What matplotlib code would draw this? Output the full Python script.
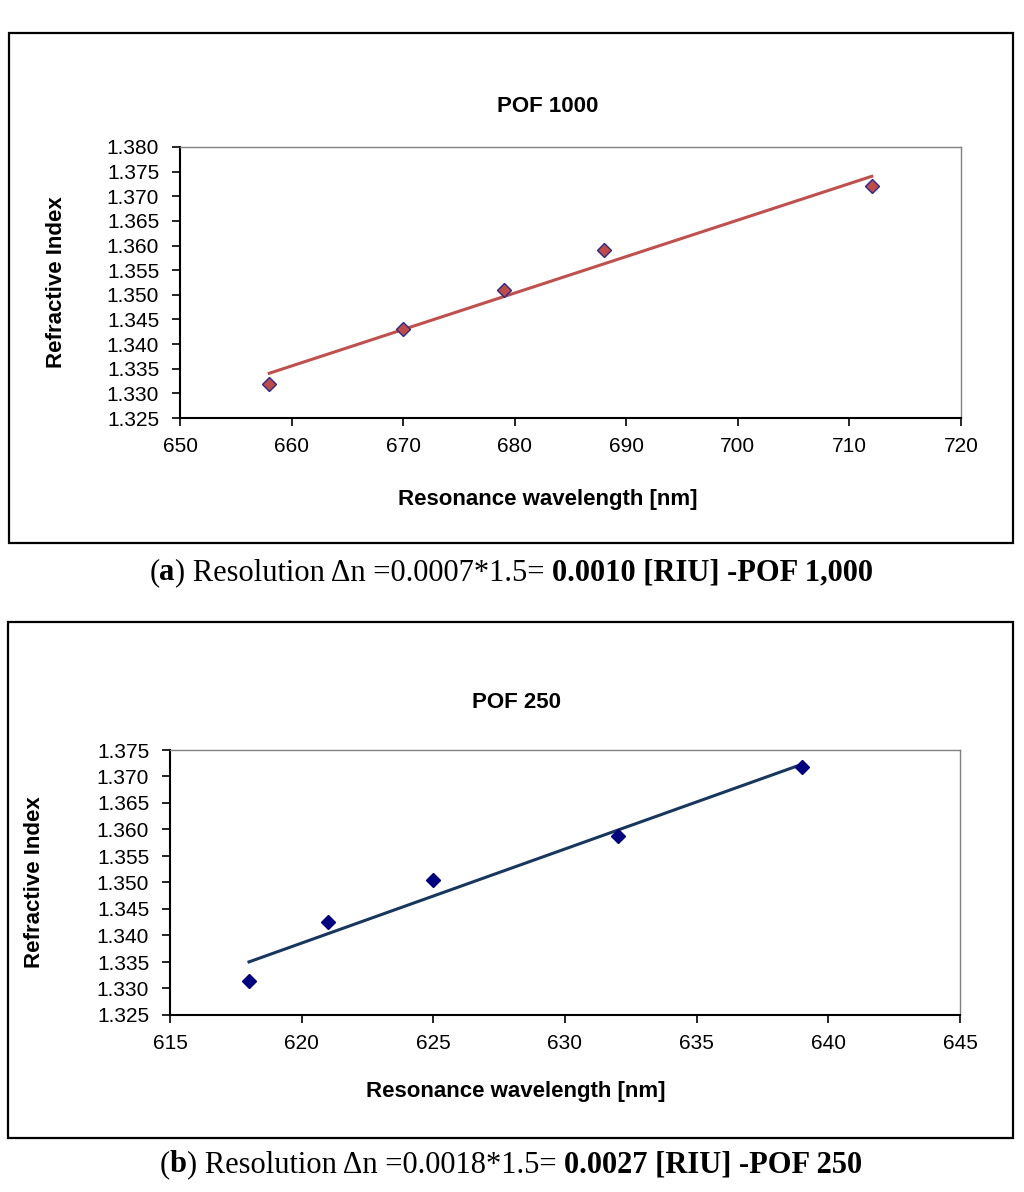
import numpy as np
import matplotlib
matplotlib.use("Agg")
import matplotlib.pyplot as plt
from matplotlib.patches import Rectangle

# ---- data ----
wl_1000 = [658, 670, 679, 688, 712]
ri_1000 = [1.332, 1.343, 1.351, 1.359, 1.372]
wl_250 = [618, 621, 625, 632, 639]
ri_250 = [1.3315, 1.3425, 1.3505, 1.3588, 1.3717]

xticks_1000 = [650, 660, 670, 680, 690, 700, 710, 720]
yticks_1000 = [1.325, 1.330, 1.335, 1.340, 1.345, 1.350, 1.355, 1.360, 1.365, 1.370, 1.375, 1.380]
xticks_250 = [615, 620, 625, 630, 635, 640, 645]
yticks_250 = [1.325, 1.330, 1.335, 1.340, 1.345, 1.350, 1.355, 1.360, 1.365, 1.370, 1.375]

title_1000 = "POF 1000"
title_250 = "POF 250"
xlabel = "Resonance wavelength [nm]"
ylabel = "Refractive Index"

cap_a = [("(", False), ("a", True), (") Resolution \u0394n =0.0007*1.5= ", False),
         ("0.0010 [RIU] -POF 1,000", True)]
cap_b = [("(", False), ("b", True), (") Resolution \u0394n =0.0018*1.5= ", False),
         ("0.0027 [RIU] -POF 250", True)]

W, H = 1024, 1192
fig = plt.figure(figsize=(W / 100, H / 100), dpi=100)
fig.patch.set_facecolor("white")

def px_rect(x0, y0, x1, y1):
    return [x0 / W, 1 - y1 / H, (x1 - x0) / W, (y1 - y0) / H]

# outer frames
for (x0, y0, x1, y1) in [(9, 33, 1013, 543), (8, 622, 1013, 1138)]:
    fig.patches.append(Rectangle((x0 / W, 1 - y1 / H), (x1 - x0) / W, (y1 - y0) / H,
                                 transform=fig.transFigure, fill=False,
                                 edgecolor="black", linewidth=1.6))

def setup_ax(ax, xt, yt, title, cx_px, title_y_px, xlab_y_px, ylab_x_px):
    ax.set_xlim(xt[0], xt[-1])
    ax.set_ylim(yt[0], yt[-1])
    ax.set_xticks(xt)
    ax.set_yticks(yt)
    ax.set_xticklabels([str(v) for v in xt], fontsize=15, family="Liberation Sans")
    ax.set_yticklabels(["%.3f" % v for v in yt], fontsize=15, family="Liberation Sans")
    ax.tick_params(axis="both", direction="out", length=6, width=1.2, colors="black")
    ax.tick_params(axis="x", pad=8)
    ax.tick_params(axis="y", pad=9)
    for s in ["left", "bottom"]:
        ax.spines[s].set_color("black")
        ax.spines[s].set_linewidth(1.5)
    for s in ["top", "right"]:
        ax.spines[s].set_color("#808080")
        ax.spines[s].set_linewidth(1.0)
    bb = ax.get_position()
    fig.text(cx_px / W, 1 - title_y_px / H, title, ha="center", va="center",
             fontsize=16, fontweight="bold", family="Liberation Sans")
    fig.text(cx_px / W, 1 - xlab_y_px / H, xlabel, ha="center", va="center",
             fontsize=16, fontweight="bold", family="Liberation Sans")
    fig.text(ylab_x_px / W, (bb.y0 + bb.y1) / 2, ylabel, ha="center", va="center",
             rotation=90, fontsize=16, fontweight="bold", family="Liberation Sans")

# --- top chart ---
ax1 = fig.add_axes(px_rect(180, 147, 961, 418))
p1 = np.polyfit(wl_1000, ri_1000, 1)
xf1 = np.array([min(wl_1000), max(wl_1000)])
ax1.plot(xf1, np.polyval(p1, xf1), color="#C0504D", linewidth=2.2, zorder=2)
ax1.plot(wl_1000, ri_1000, linestyle="none", marker="D", markersize=7,
         markerfacecolor="#BE4B48", markeredgecolor="#2A2A8C", markeredgewidth=1.0, zorder=3)
setup_ax(ax1, xticks_1000, yticks_1000, title_1000, 548, 107, 500, 57)

# --- bottom chart ---
ax2 = fig.add_axes(px_rect(170, 750, 960, 1015))
p2 = np.polyfit(wl_250, ri_250, 1)
xf2 = np.array([min(wl_250), max(wl_250)])
ax2.plot(xf2, np.polyval(p2, xf2), color="#17375E", linewidth=2.2, zorder=2)
ax2.plot(wl_250, ri_250, linestyle="none", marker="D", markersize=7,
         markerfacecolor="#000080", markeredgecolor="#000080", markeredgewidth=1.0, zorder=3)
setup_ax(ax2, xticks_250, yticks_250, title_250, 516, 703, 1091, 35)

# --- captions with mixed weights ---
def caption(parts, y_px, cx_px):
    fig.canvas.draw()
    r = fig.canvas.get_renderer()
    texts = []
    widths = []
    for s, bold in parts:
        t = fig.text(0, 1 - y_px / H, s, ha="left", va="center", fontsize=22,
                     family="Liberation Serif", fontweight="bold" if bold else "normal")
        texts.append(t)
        widths.append(t.get_window_extent(renderer=r).width)
    total = sum(widths)
    x = cx_px - total / 2
    for t, w in zip(texts, widths):
        t.set_x(x / W)
        x += w

caption(cap_a, 573, 511)
caption(cap_b, 1165, 511)

fig.savefig("out.png", dpi=100, facecolor="white")
